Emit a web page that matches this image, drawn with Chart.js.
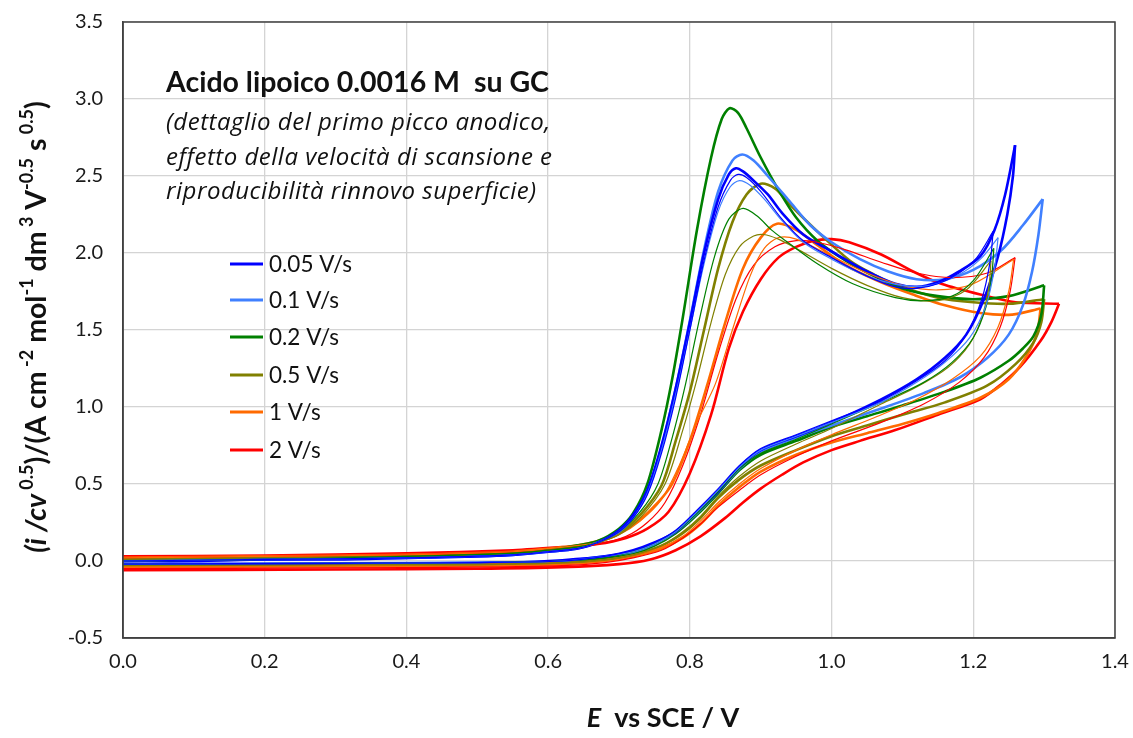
<!DOCTYPE html>
<html>
<head>
<meta charset="utf-8">
<script src="https://cdn.jsdelivr.net/npm/chart.js@4.4.0/dist/chart.umd.min.js"></script>
<style>
    html, body { margin: 0; padding: 0; background: #fff; }
    #wrap { width: 1133px; height: 738px; position: relative; }
</style>
</head>
<body>
<div id="wrap"><canvas id="cv-chart"></canvas></div>
<script>
// --- Data (E / V, normalised current) ---
const rateLabels = ['0.05 V/s', '0.1 V/s', '0.2 V/s', '0.5 V/s', '1 V/s', '2 V/s'];
const rateColours = ['#0000ff', '#4080ff', '#008000', '#808000', '#ff6a00', '#ff0000'];
const xTicks = [0, 0.2, 0.4, 0.6, 0.8, 1.0, 1.2, 1.4];
const yTicks = [-0.5, 0, 0.5, 1.0, 1.5, 2.0, 2.5, 3.0, 3.5];

// 0.05 V/s
const fwd005 = [[0,0],[0.1,0],[0.2,0.01],[0.3,0.01],[0.4,0.02],[0.5,0.03],[0.55,0.04],[0.6,0.06],[0.64,0.08],[0.67,0.12],[0.7,0.2],[0.72,0.3],[0.74,0.46],[0.76,0.75],[0.78,1.12],[0.8,1.55],[0.82,2.0],[0.84,2.35],[0.855,2.51],[0.865,2.55],[0.875,2.53],[0.89,2.47],[0.91,2.38],[0.93,2.26],[0.96,2.12],[1.0,2.01],[1.05,1.88],[1.09,1.8],[1.12,1.78],[1.15,1.81],[1.18,1.88],[1.21,1.98],[1.23,2.15],[1.245,2.38],[1.259,2.7]];
const rev005 = [[1.259,2.7],[1.256,2.5],[1.248,2.25],[1.235,1.98],[1.215,1.7],[1.19,1.47],[1.16,1.32],[1.12,1.18],[1.07,1.05],[1.0,0.9],[0.95,0.81],[0.9,0.72],[0.87,0.61],[0.84,0.45],[0.81,0.32],[0.78,0.19],[0.75,0.12],[0.72,0.07],[0.68,0.03],[0.62,0.005],[0.55,-0.01],[0.4,-0.015],[0.2,-0.02],[0,-0.02]];
const fwd005b = [[0,0],[0.2,0.01],[0.4,0.02],[0.55,0.04],[0.6,0.06],[0.64,0.08],[0.67,0.12],[0.7,0.19],[0.72,0.28],[0.74,0.43],[0.76,0.7],[0.78,1.06],[0.8,1.5],[0.82,1.95],[0.84,2.3],[0.857,2.47],[0.868,2.51],[0.88,2.49],[0.9,2.4],[0.93,2.22],[0.96,2.08],[1.0,1.97],[1.05,1.85],[1.09,1.78],[1.12,1.77],[1.15,1.8],[1.18,1.87],[1.205,1.97],[1.228,2.14]];
const rev005b = [[1.228,2.14],[1.224,1.95],[1.212,1.7],[1.19,1.47],[1.16,1.3],[1.12,1.17],[1.07,1.04],[1.0,0.91],[0.95,0.82],[0.9,0.73],[0.87,0.62],[0.84,0.47],[0.81,0.33],[0.78,0.2],[0.75,0.12],[0.72,0.07],[0.68,0.03],[0.62,0],[0.5,-0.01],[0.3,-0.015],[0,-0.02]];

// 0.1 V/s
const fwd01 = [[0,0],[0.2,0.01],[0.4,0.02],[0.55,0.04],[0.6,0.06],[0.64,0.08],[0.67,0.12],[0.7,0.19],[0.72,0.29],[0.74,0.45],[0.76,0.74],[0.78,1.12],[0.8,1.56],[0.82,2.02],[0.84,2.4],[0.86,2.6],[0.874,2.64],[0.89,2.6],[0.91,2.5],[0.94,2.34],[0.97,2.18],[1.0,2.07],[1.04,1.96],[1.08,1.88],[1.12,1.83],[1.16,1.83],[1.2,1.89],[1.24,2.02],[1.27,2.18],[1.298,2.35]];
const rev01 = [[1.298,2.35],[1.292,2.12],[1.283,1.88],[1.27,1.66],[1.25,1.47],[1.22,1.32],[1.18,1.19],[1.13,1.09],[1.07,0.99],[1.0,0.88],[0.95,0.8],[0.9,0.71],[0.87,0.6],[0.84,0.45],[0.81,0.31],[0.78,0.19],[0.75,0.11],[0.72,0.06],[0.68,0.03],[0.62,0],[0.5,-0.01],[0.3,-0.015],[0,-0.02]];
const fwd01b = [[0,0],[0.2,0.01],[0.4,0.02],[0.55,0.04],[0.6,0.06],[0.64,0.08],[0.67,0.12],[0.7,0.19],[0.72,0.28],[0.74,0.44],[0.76,0.72],[0.78,1.08],[0.8,1.5],[0.82,1.93],[0.84,2.27],[0.857,2.43],[0.87,2.47],[0.885,2.44],[0.905,2.35],[0.93,2.21],[0.96,2.07],[1.0,1.96],[1.05,1.85],[1.1,1.79],[1.14,1.79],[1.18,1.86],[1.21,1.96],[1.235,2.1]];
const rev01b = [[1.235,2.1],[1.23,1.9],[1.218,1.66],[1.195,1.45],[1.16,1.29],[1.12,1.16],[1.07,1.03],[1.0,0.9],[0.95,0.81],[0.9,0.72],[0.87,0.61],[0.84,0.46],[0.81,0.32],[0.78,0.19],[0.75,0.11],[0.72,0.06],[0.68,0.03],[0.62,0],[0.5,-0.01],[0.3,-0.015],[0,-0.02]];

// 0.2 V/s
const fwd02 = [[0,0],[0.2,0.01],[0.4,0.03],[0.55,0.05],[0.6,0.07],[0.64,0.1],[0.67,0.13],[0.7,0.21],[0.72,0.31],[0.74,0.5],[0.76,0.85],[0.775,1.18],[0.79,1.58],[0.81,2.15],[0.83,2.62],[0.845,2.87],[0.856,2.94],[0.868,2.91],[0.88,2.81],[0.9,2.62],[0.925,2.41],[0.95,2.23],[0.98,2.08],[1.02,1.95],[1.06,1.85],[1.1,1.77],[1.15,1.72],[1.2,1.7],[1.25,1.72],[1.3,1.79]];
const rev02 = [[1.3,1.79],[1.296,1.6],[1.285,1.46],[1.27,1.38],[1.25,1.3],[1.21,1.19],[1.16,1.1],[1.1,1.01],[1.05,0.94],[1.0,0.87],[0.95,0.78],[0.9,0.69],[0.87,0.59],[0.84,0.44],[0.81,0.3],[0.78,0.18],[0.75,0.1],[0.72,0.05],[0.68,0.02],[0.62,-0.005],[0.5,-0.015],[0.3,-0.02],[0,-0.025]];
const fwd02b = [[0,0],[0.2,0.01],[0.4,0.03],[0.55,0.05],[0.6,0.07],[0.64,0.09],[0.67,0.12],[0.7,0.19],[0.73,0.32],[0.755,0.5],[0.775,0.8],[0.794,1.15],[0.815,1.6],[0.835,1.98],[0.855,2.22],[0.875,2.29],[0.895,2.24],[0.915,2.15],[0.935,2.08],[0.98,1.93],[1.03,1.8],[1.09,1.71],[1.13,1.69],[1.17,1.72],[1.2,1.82],[1.229,2.03]];
const rev02b = [[1.229,2.03],[1.226,1.85],[1.218,1.65],[1.2,1.45],[1.17,1.29],[1.13,1.16],[1.08,1.05],[1.0,0.89],[0.95,0.79],[0.9,0.7],[0.87,0.6],[0.84,0.45],[0.81,0.31],[0.78,0.19],[0.75,0.11],[0.72,0.06],[0.68,0.02],[0.62,0],[0.5,-0.01],[0.3,-0.015],[0,-0.02]];

// 0.5 V/s
const fwd05 = [[0,0.01],[0.2,0.02],[0.4,0.03],[0.55,0.05],[0.6,0.07],[0.64,0.09],[0.67,0.12],[0.7,0.18],[0.73,0.3],[0.76,0.49],[0.78,0.78],[0.8,1.1],[0.82,1.5],[0.84,1.9],[0.86,2.2],[0.88,2.38],[0.9,2.45],[0.92,2.42],[0.94,2.32],[0.98,2.14],[1.026,1.95],[1.06,1.86],[1.093,1.79],[1.15,1.71],[1.2,1.68],[1.25,1.67],[1.3,1.7]];
const rev05 = [[1.3,1.7],[1.296,1.55],[1.285,1.42],[1.26,1.28],[1.22,1.14],[1.16,1.03],[1.1,0.95],[1.05,0.88],[1.0,0.81],[0.95,0.72],[0.9,0.62],[0.87,0.53],[0.84,0.41],[0.815,0.28],[0.79,0.18],[0.76,0.1],[0.72,0.04],[0.68,0.01],[0.62,-0.01],[0.5,-0.02],[0.3,-0.025],[0,-0.03]];
const fwd05b = [[0,0.01],[0.2,0.02],[0.4,0.03],[0.55,0.05],[0.6,0.07],[0.64,0.09],[0.67,0.12],[0.7,0.17],[0.73,0.28],[0.765,0.5],[0.79,0.85],[0.81,1.18],[0.83,1.55],[0.85,1.86],[0.87,2.04],[0.89,2.11],[0.904,2.12],[0.925,2.09],[0.95,2.03],[1.0,1.9],[1.05,1.79],[1.1,1.71],[1.15,1.69],[1.19,1.76],[1.225,1.95]];
const rev05b = [[1.225,1.95],[1.222,1.78],[1.212,1.58],[1.195,1.41],[1.165,1.26],[1.12,1.13],[1.07,1.02],[1.0,0.86],[0.95,0.76],[0.9,0.65],[0.87,0.55],[0.84,0.42],[0.815,0.29],[0.79,0.19],[0.76,0.1],[0.72,0.04],[0.68,0.01],[0.62,-0.01],[0.5,-0.02],[0.3,-0.025],[0,-0.03]];

// 1 V/s
const fwd1 = [[0,0.02],[0.2,0.03],[0.4,0.04],[0.55,0.06],[0.6,0.08],[0.64,0.1],[0.67,0.13],[0.7,0.18],[0.73,0.27],[0.755,0.38],[0.775,0.5],[0.8,0.78],[0.825,1.15],[0.85,1.55],[0.875,1.9],[0.9,2.1],[0.923,2.19],[0.95,2.15],[0.98,2.05],[1.02,1.92],[1.07,1.81],[1.115,1.73],[1.16,1.66],[1.21,1.61],[1.255,1.6],[1.295,1.64]];
const rev1 = [[1.295,1.64],[1.29,1.48],[1.275,1.33],[1.25,1.18],[1.21,1.06],[1.15,0.96],[1.1,0.89],[1.05,0.83],[1.0,0.77],[0.95,0.69],[0.9,0.58],[0.87,0.48],[0.84,0.36],[0.815,0.24],[0.79,0.15],[0.76,0.08],[0.72,0.03],[0.68,0],[0.62,-0.02],[0.5,-0.03],[0.3,-0.035],[0,-0.04]];
const fwd1b = [[0,0.02],[0.2,0.03],[0.4,0.04],[0.55,0.06],[0.6,0.08],[0.64,0.1],[0.67,0.12],[0.7,0.17],[0.73,0.26],[0.76,0.4],[0.785,0.62],[0.81,0.9],[0.836,1.15],[0.86,1.5],[0.885,1.85],[0.905,2.03],[0.925,2.1],[0.95,2.09],[1.0,1.98],[1.05,1.87],[1.1,1.79],[1.15,1.76],[1.2,1.8],[1.257,1.96]];
const rev1b = [[1.257,1.96],[1.25,1.75],[1.235,1.52],[1.21,1.33],[1.17,1.18],[1.12,1.05],[1.06,0.93],[1.0,0.82],[0.95,0.72],[0.9,0.6],[0.87,0.5],[0.84,0.38],[0.815,0.26],[0.79,0.16],[0.76,0.09],[0.72,0.04],[0.68,0.01],[0.62,-0.01],[0.5,-0.02],[0.3,-0.03],[0,-0.035]];

// 2 V/s
const fwd2 = [[0,0.03],[0.2,0.035],[0.4,0.05],[0.55,0.07],[0.62,0.09],[0.67,0.11],[0.71,0.15],[0.74,0.21],[0.77,0.32],[0.8,0.57],[0.83,0.95],[0.855,1.38],[0.875,1.62],[0.9,1.83],[0.925,1.97],[0.95,2.04],[0.975,2.08],[1.0,2.09],[1.025,2.07],[1.07,1.99],[1.115,1.88],[1.155,1.8],[1.21,1.73],[1.26,1.68],[1.321,1.67]];
const rev2 = [[1.321,1.67],[1.31,1.55],[1.295,1.43],[1.266,1.26],[1.24,1.15],[1.21,1.05],[1.15,0.95],[1.09,0.85],[1.04,0.78],[1.0,0.72],[0.96,0.64],[0.93,0.56],[0.9,0.47],[0.875,0.38],[0.85,0.28],[0.815,0.16],[0.78,0.07],[0.744,0.01],[0.7,-0.02],[0.62,-0.04],[0.5,-0.05],[0.3,-0.055],[0,-0.06]];
const fwd2b = [[0,0.02],[0.2,0.03],[0.4,0.04],[0.55,0.06],[0.62,0.08],[0.67,0.11],[0.71,0.16],[0.74,0.25],[0.765,0.38],[0.79,0.62],[0.815,0.95],[0.84,1.35],[0.865,1.7],[0.89,1.92],[0.92,2.04],[0.95,2.08],[0.98,2.07],[1.02,2.02],[1.07,1.94],[1.12,1.87],[1.17,1.84],[1.22,1.87],[1.259,1.97]];
const rev2b = [[1.259,1.97],[1.252,1.75],[1.238,1.52],[1.215,1.32],[1.18,1.16],[1.13,1.02],[1.07,0.9],[1.0,0.78],[0.95,0.68],[0.9,0.56],[0.87,0.46],[0.84,0.35],[0.815,0.24],[0.79,0.15],[0.76,0.07],[0.72,0.02],[0.68,-0.01],[0.62,-0.03],[0.5,-0.04],[0.3,-0.045],[0,-0.05]];

// thin = replicate after surface renewal, thick = main run
const thinRuns = [[fwd005b, rev005b], [fwd01b, rev01b], [fwd02b, rev02b], [fwd05b, rev05b], [fwd1b, rev1b], [fwd2b, rev2b]];
const thickRuns = [[fwd005, rev005], [fwd01, rev01], [fwd02, rev02], [fwd05, rev05], [fwd1, rev1], [fwd2, rev2]];

const FONT = 'Lato, "Open Sans", sans-serif';

function toXY(arr) {
    return arr.map(p => ({ x: p[0], y: p[1] }));
}

const datasets = [];
thinRuns.forEach((run, i) => {
    run.forEach(part => datasets.push({
        label: rateLabels[i] + ' (rep.)', data: toXY(part), borderColor: rateColours[i],
        borderWidth: 1.2, showLine: true, pointRadius: 0, tension: 0.3, fill: false
    }));
});
thickRuns.forEach((run, i) => {
    run.forEach(part => datasets.push({
        label: rateLabels[i], data: toXY(part), borderColor: rateColours[i],
        borderWidth: 2.6, showLine: true, pointRadius: 0, tension: 0.3, fill: false
    }));
});

// draw a run of text pieces, superscripts raised and smaller
function drawRuns(ctx, runs, size) {
    const supSize = Math.round(size * 0.64);
    let total = 0;
    runs.forEach(r => {
        ctx.font = (r.it ? 'italic ' : '') + 'bold ' + (r.sup ? supSize : size) + 'px ' + FONT;
        r.w = ctx.measureText(r.t).width;
        total += r.w;
    });
    let x = -total / 2;
    runs.forEach(r => {
        ctx.font = (r.it ? 'italic ' : '') + 'bold ' + (r.sup ? supSize : size) + 'px ' + FONT;
        ctx.fillText(r.t, x, r.sup ? -size * 0.45 : 0);
        x += r.w;
    });
}

// keep the plot box where the layout padding puts it
function noScalePadding(s) {
    s.paddingTop = 0; s.paddingBottom = 0; s.paddingLeft = 0; s.paddingRight = 0;
}

const textPlugin = {
    id: 'texts',
    afterDatasetsDraw(chart) {
        const ctx = chart.ctx;
        const a = chart.chartArea;
        ctx.save();
        ctx.strokeStyle = '#404040';
        ctx.lineWidth = 1.5;
        ctx.strokeRect(a.left, a.top, a.right - a.left, a.bottom - a.top);
        ctx.restore();
    },
    afterDraw(chart) {
        const ctx = chart.ctx;
        ctx.save();
        ctx.fillStyle = '#111';
        ctx.textBaseline = 'alphabetic';
        ctx.textAlign = 'left';

        // annotation
        ctx.font = 'bold 28.5px ' + FONT;
        ctx.fillText('Acido lipoico 0.0016 M  su GC', 166, 92);
        ctx.font = 'italic 24px "Open Sans", sans-serif';
        ctx.letterSpacing = '0.5px';
        ctx.fillText('(dettaglio del primo picco anodico,', 166, 130);
        ctx.fillText('effetto della velocità di scansione e', 166, 165);
        ctx.fillText('riproducibilità rinnovo superficie)', 166, 199);
        ctx.letterSpacing = '0px';

        // legend
        const legendY = [264, 300, 337, 375, 412, 450];
        ctx.font = '22.5px ' + FONT;
        ctx.textBaseline = 'middle';
        rateLabels.forEach((lab, i) => {
            ctx.strokeStyle = rateColours[i];
            ctx.lineWidth = 3;
            ctx.beginPath();
            ctx.moveTo(230, legendY[i]);
            ctx.lineTo(263, legendY[i]);
            ctx.stroke();
            ctx.fillStyle = '#111';
            ctx.fillText(lab, 269, legendY[i] + 1);
        });

        // x axis title
        ctx.textBaseline = 'alphabetic';
        ctx.save();
        ctx.translate(663, 727);
        drawRuns(ctx, [{ t: 'E', it: true }, { t: '  vs SCE / V' }], 27);
        ctx.restore();

        // y axis title
        ctx.save();
        ctx.translate(46, 327);
        ctx.rotate(-Math.PI / 2);
        drawRuns(ctx, [
            { t: '(i /cv', it: true }, { t: ' 0.5', sup: true }, { t: ')/(A cm' }, { t: ' -2', sup: true },
            { t: ' mol' }, { t: '-1', sup: true }, { t: ' dm' }, { t: ' 3', sup: true },
            { t: ' V' }, { t: '-0.5', sup: true }, { t: ' s' }, { t: ' 0.5', sup: true }, { t: ')' }
        ], 28.5);
        ctx.restore();
        ctx.restore();
    }
};

const ctxMain = document.getElementById('cv-chart').getContext('2d');
new Chart(ctxMain, {
    type: 'scatter',
    data: { datasets: datasets },
    options: {
        responsive: true,
        maintainAspectRatio: false,
        animation: false,
        layout: { padding: { top: 22, right: 18, left: 0, bottom: 0 } },
        plugins: { legend: { display: false }, tooltip: { enabled: false } },
        scales: {
            x: {
                type: 'linear', min: 0, max: 1.4,
                afterBuildTicks: s => { s.ticks = xTicks.map(v => ({ value: v })); },
                afterFit: s => { s.height = 100; noScalePadding(s); },
                ticks: { callback: v => v.toFixed(1), font: { family: FONT, size: 20 }, color: '#1a1a1a', padding: 12, maxRotation: 0, autoSkip: false },
                grid: { color: '#d4d4d4', lineWidth: 1.3, drawTicks: false },
                border: { display: true, color: '#404040', width: 1.5 }
            },
            y: {
                type: 'linear', min: -0.5, max: 3.5,
                afterBuildTicks: s => { s.ticks = yTicks.map(v => ({ value: v })); },
                afterFit: s => { s.width = 123; noScalePadding(s); },
                ticks: { callback: v => v.toFixed(1), font: { family: FONT, size: 20 }, color: '#1a1a1a', padding: 20, autoSkip: false },
                grid: { color: '#d4d4d4', lineWidth: 1.3, drawTicks: false },
                border: { display: true, color: '#404040', width: 1.5 }
            }
        }
    },
    plugins: [textPlugin]
});
</script>
</body>
</html>
